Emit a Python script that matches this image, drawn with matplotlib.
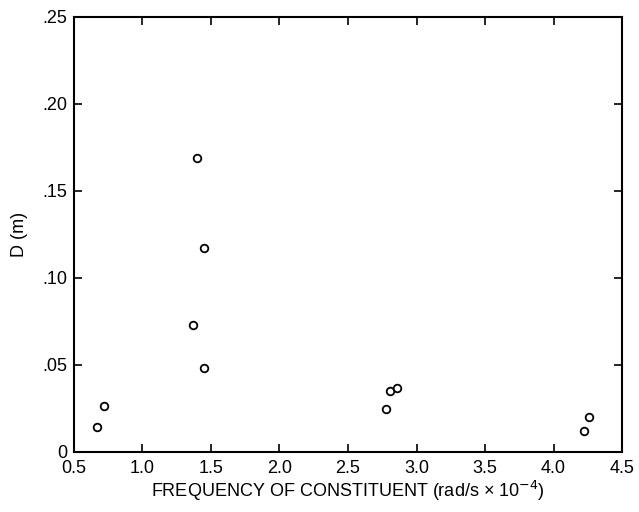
import matplotlib
matplotlib.use("Agg")
import matplotlib.pyplot as plt

freq = [0.67, 0.72, 1.40, 1.45, 1.37, 1.45, 2.78, 2.81, 2.86, 4.22, 4.26]
D = [0.0144, 0.0264, 0.169, 0.117, 0.073, 0.048, 0.0247, 0.035, 0.037, 0.012, 0.020]
xticks = [0.5, 1.0, 1.5, 2.0, 2.5, 3.0, 3.5, 4.0, 4.5]
xticklabels = ["0.5", "1.0", "1.5", "2.0", "2.5", "3.0", "3.5", "4.0", "4.5"]
yticks = [0, 0.05, 0.10, 0.15, 0.20, 0.25]
yticklabels = ["0", ".05", ".10", ".15", ".20", ".25"]

plt.rcParams['font.family'] = ['Liberation Sans', 'DejaVu Sans']
fig = plt.figure(figsize=(6.39, 5.12), dpi=100)
ax = fig.add_axes([0.1158, 0.1172, 0.8576, 0.8496])
ax.scatter(freq, D, s=30, facecolors='white', edgecolors='black', linewidths=1.3, zorder=3)
ax.set_xlim(0.5, 4.5)
ax.set_ylim(0, 0.25)
ax.set_xticks(xticks)
ax.set_xticklabels(xticklabels)
ax.set_yticks(yticks)
ax.set_yticklabels(yticklabels)
ax.tick_params(direction='in', top=True, right=True, length=6, width=1.2, labelsize=13)
ax.tick_params(axis='x', pad=6)
ax.tick_params(axis='y', pad=5)
for s in ax.spines.values():
    s.set_linewidth(1.5)
ax.set_xlabel("FREQUENCY OF CONSTITUENT (rad/s \u00d7 10$^{-4}$)", fontsize=13, labelpad=1)
ax.set_ylabel("D (m)", fontsize=13, labelpad=10)
fig.savefig("out.png", dpi=100)
